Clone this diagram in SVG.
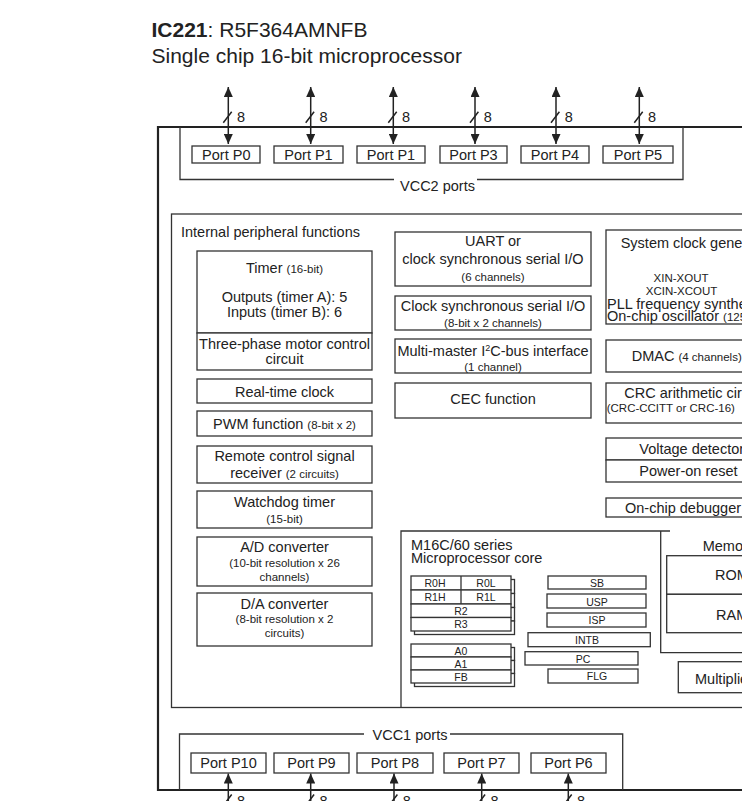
<svg xmlns="http://www.w3.org/2000/svg" width="742" height="801" viewBox="0 0 742 801">
  <style>
    text { font-family: "Liberation Sans", Arial, Helvetica, sans-serif; font-size: 14.5px; fill: #222; }
    .c { text-anchor: middle; }
    .s { font-size: 11.5px; }
    .r { font-size: 10.5px; }
    .ttl { font-size: 21px; }
    .box { fill: #fff; stroke: #333; stroke-width: 1.3; }
    .frame { fill: none; stroke: #222; stroke-width: 2.2; }
    .wire { fill: none; stroke: #333; stroke-width: 1.3; }
    .bus { fill: none; stroke: #222; stroke-width: 1.5; }
  </style>
  <defs>
    <marker id="head" viewBox="0 0 10 9" refX="10" refY="4.5" markerWidth="10" markerHeight="9" markerUnits="userSpaceOnUse" orient="auto-start-reverse">
      <path d="M0,0 L10,4.5 L0,9 z" fill="#222"/>
    </marker>
  </defs>

  <rect width="742" height="801" fill="#fff"/>

  <!-- title -->
  <g id="title">
    <text class="ttl" x="151.5" y="36.5"><tspan font-weight="bold">IC221</tspan>: R5F364AMNFB</text>
    <text class="ttl" x="151.5" y="63">Single chip 16-bit microprocessor</text>
  </g>

  <!-- chip outline -->
  <g id="chip">
    <path class="frame" d="M760,127 H158 V790 H760"/>
  </g>

  <!-- internal peripheral block -->
  <g id="peripherals">
    <rect class="box" x="171.5" y="214" width="620" height="493.5"/>
    <text x="181" y="237.3">Internal peripheral functions</text>
  </g>

  <!-- left column -->
  <g id="timer">
    <rect class="box" x="197" y="251" width="175" height="82"/>
    <text class="c" x="284.5" y="273">Timer <tspan class="s">(16-bit)</tspan></text>
    <text class="c" x="284.5" y="302">Outputs (timer A): 5</text>
    <text class="c" x="284.5" y="317">Inputs (timer B): 6</text>
  </g>
  <g id="three-phase">
    <rect class="box" x="197" y="333" width="175" height="37"/>
    <text class="c" x="284.5" y="349">Three-phase motor control</text>
    <text class="c" x="284.5" y="364">circuit</text>
  </g>
  <g id="rtc">
    <rect class="box" x="197" y="379" width="175" height="24"/>
    <text class="c" x="284.5" y="396.5">Real-time clock</text>
  </g>
  <g id="pwm">
    <rect class="box" x="197" y="411" width="175" height="25"/>
    <text class="c" x="284.5" y="428.5">PWM function <tspan class="s">(8-bit x 2)</tspan></text>
  </g>
  <g id="remote">
    <rect class="box" x="197" y="446" width="175" height="37"/>
    <text class="c" x="284.5" y="460.5">Remote control signal</text>
    <text class="c" x="284.5" y="478">receiver <tspan class="s">(2 circuits)</tspan></text>
  </g>
  <g id="watchdog">
    <rect class="box" x="197" y="491" width="175" height="37"/>
    <text class="c" x="284.5" y="507">Watchdog timer</text>
    <text class="c s" x="284.5" y="523">(15-bit)</text>
  </g>
  <g id="adc">
    <rect class="box" x="197" y="537" width="175" height="49"/>
    <text class="c" x="284.5" y="551.5">A/D converter</text>
    <text class="c s" x="284.5" y="567">(10-bit resolution x 26</text>
    <text class="c s" x="284.5" y="581">channels)</text>
  </g>
  <g id="dac">
    <rect class="box" x="197" y="593" width="175" height="53"/>
    <text class="c" x="284.5" y="609">D/A converter</text>
    <text class="c s" x="284.5" y="623">(8-bit resolution x 2</text>
    <text class="c s" x="284.5" y="637">circuits)</text>
  </g>

  <!-- middle column -->
  <g id="uart">
    <rect class="box" x="395" y="232" width="196" height="54"/>
    <text class="c" x="493" y="246">UART or</text>
    <text class="c" x="493" y="264">clock synchronous serial I/O</text>
    <text class="c s" x="493" y="281">(6 channels)</text>
  </g>
  <g id="csio">
    <rect class="box" x="395" y="296" width="196" height="34"/>
    <text class="c" x="493" y="311">Clock synchronous serial I/O</text>
    <text class="c s" x="493" y="326.5">(8-bit x 2 channels)</text>
  </g>
  <g id="i2c">
    <rect class="box" x="395" y="339" width="196" height="34"/>
    <text class="c" x="493" y="356">Multi-master I<tspan font-size="9" dy="-5">2</tspan><tspan dy="5">C-bus interface</tspan></text>
    <text class="c s" x="493" y="370.5">(1 channel)</text>
  </g>
  <g id="cec">
    <rect class="box" x="395" y="383" width="196" height="35"/>
    <text class="c" x="493" y="404">CEC function</text>
  </g>

  <!-- right column -->
  <g id="clock-gen">
    <rect class="box" x="606" y="230" width="160" height="94"/>
    <text x="620.7" y="248">System clock generator</text>
    <text class="c s" x="681" y="281.5">XIN-XOUT</text>
    <text class="c s" x="681.5" y="294.5">XCIN-XCOUT</text>
    <text x="607" y="308.5">PLL frequency synthesizer</text>
    <text x="607" y="321">On-chip oscillator <tspan class="s">(125 kHz)</tspan></text>
  </g>
  <g id="dmac">
    <rect class="box" x="606" y="340" width="160" height="32"/>
    <text x="631.7" y="361">DMAC <tspan class="s">(4 channels)</tspan></text>
  </g>
  <g id="crc">
    <rect class="box" x="606" y="383" width="160" height="40"/>
    <text x="624.3" y="398">CRC arithmetic circuit</text>
    <text class="s" x="606.7" y="412">(CRC-CCITT or CRC-16)</text>
  </g>
  <g id="voltage-detector">
    <rect class="box" x="606" y="438" width="160" height="22"/>
    <text x="639.3" y="454">Voltage detector</text>
  </g>
  <g id="power-on-reset">
    <rect class="box" x="606" y="460" width="160" height="22"/>
    <text x="639.3" y="476">Power-on reset</text>
  </g>
  <g id="debugger">
    <rect class="box" x="606" y="498" width="160" height="19"/>
    <text x="625" y="512.5">On-chip debugger</text>
  </g>

  <!-- CPU core -->
  <g id="core">
    <path class="wire" d="M670,531 H401 V707.5"/>
    <text x="411" y="549.5">M16C/60 series</text>
    <text x="411" y="563">Microprocessor core</text>
  </g>
  <g id="data-registers">
    <rect class="box" x="414.5" y="579.5" width="100" height="14"/>
    <rect class="box" x="414.5" y="593.5" width="100" height="14"/>
    <rect class="box" x="414.5" y="607.5" width="100" height="13.5"/>
    <rect class="box" x="414.5" y="621" width="100" height="13.5"/>
    <rect class="box" x="411" y="576" width="100" height="14"/>
    <rect class="box" x="411" y="590" width="100" height="14"/>
    <rect class="box" x="411" y="604" width="100" height="13.5"/>
    <rect class="box" x="411" y="617.5" width="100" height="13.5"/>
    <line class="wire" x1="461" y1="576" x2="461" y2="604"/>
    <text class="c r" x="435" y="587">R0H</text>
    <text class="c r" x="486" y="587">R0L</text>
    <text class="c r" x="435" y="601">R1H</text>
    <text class="c r" x="486" y="601">R1L</text>
    <text class="c r" x="461" y="614.5">R2</text>
    <text class="c r" x="461" y="628">R3</text>
  </g>
  <g id="address-registers">
    <rect class="box" x="414.5" y="647.5" width="100" height="13"/>
    <rect class="box" x="414.5" y="660.5" width="100" height="13"/>
    <rect class="box" x="414.5" y="673.5" width="100" height="13"/>
    <rect class="box" x="411" y="644" width="100" height="13"/>
    <rect class="box" x="411" y="657" width="100" height="13"/>
    <rect class="box" x="411" y="670" width="100" height="13"/>
    <text class="c r" x="461" y="654.5">A0</text>
    <text class="c r" x="461" y="668">A1</text>
    <text class="c r" x="461" y="680.5">FB</text>
  </g>
  <g id="sb"><rect class="box" x="548" y="576" width="98" height="13"/><text class="c r" x="597" y="586.5">SB</text></g>
  <g id="usp"><rect class="box" x="547" y="594" width="99" height="14"/><text class="c r" x="597" y="606">USP</text></g>
  <g id="isp"><rect class="box" x="547" y="613" width="99" height="14"/><text class="c r" x="597" y="624">ISP</text></g>
  <g id="intb"><rect class="box" x="528" y="632.7" width="122.3" height="14"/><text class="c r" x="587" y="644">INTB</text></g>
  <g id="pc"><rect class="box" x="525" y="651.7" width="113" height="13.3"/><text class="c r" x="583" y="662.5">PC</text></g>
  <g id="flg"><rect class="box" x="548" y="669" width="90" height="14"/><text class="c r" x="597" y="680">FLG</text></g>

  <g id="memory">
    <path class="wire" d="M660.7,531 V652.7 H760"/>
    <text x="702.7" y="551">Memory</text>
  </g>
  <g id="rom">
    <rect class="box" x="666.7" y="555.7" width="140" height="38.6"/>
    <text x="715" y="580">ROM</text>
  </g>
  <g id="ram">
    <rect class="box" x="666.7" y="594.3" width="140" height="38.4"/>
    <text x="716" y="619.5">RAM</text>
  </g>
  <g id="multiplier">
    <rect class="box" x="678.3" y="661.7" width="120" height="31"/>
    <text x="695" y="683.5">Multiplier</text>
  </g>

  <!-- VCC2 port row -->
  <g id="port-p0"><rect class="box" x="192" y="146" width="68" height="17"/><text class="c" x="226.3" y="159.7">Port P0</text></g>
  <g id="port-p1"><rect class="box" x="274" y="146" width="69" height="17"/><text class="c" x="308.5" y="159.7">Port P1</text></g>
  <g id="port-p1b"><rect class="box" x="357" y="146" width="68" height="17"/><text class="c" x="391" y="159.7">Port P1</text></g>
  <g id="port-p3"><rect class="box" x="440" y="146" width="67" height="17"/><text class="c" x="473.5" y="159.7">Port P3</text></g>
  <g id="port-p4"><rect class="box" x="521" y="146" width="68" height="17"/><text class="c" x="555" y="159.7">Port P4</text></g>
  <g id="port-p5"><rect class="box" x="603" y="146" width="70" height="17"/><text class="c" x="638" y="159.7">Port P5</text></g>

  <!-- VCC1 port row -->
  <g id="port-p10"><rect class="box" x="191" y="753" width="75" height="20"/><text class="c" x="228.5" y="768">Port P10</text></g>
  <g id="port-p9"><rect class="box" x="274" y="753" width="75" height="20"/><text class="c" x="311.5" y="768">Port P9</text></g>
  <g id="port-p8"><rect class="box" x="357" y="753" width="76" height="20"/><text class="c" x="395" y="768">Port P8</text></g>
  <g id="port-p7"><rect class="box" x="444" y="753" width="75" height="20"/><text class="c" x="481.5" y="768">Port P7</text></g>
  <g id="port-p6"><rect class="box" x="531" y="753" width="75" height="20"/><text class="c" x="568.5" y="768">Port P6</text></g>

  <!-- supply groupings and bus connectors -->
  <g id="connectors">
    <path class="wire" d="M180,127 V179.5 H394 M477,179.5 H683 V127"/>
    <text x="400" y="191">VCC2 ports</text>
    <path class="wire" d="M179.5,790 V734 H364 M450,734 H622.7 V790"/>
    <text x="372.5" y="740">VCC1 ports</text>

    <g class="bus">
      <line x1="228.3" y1="87" x2="228.3" y2="144" marker-start="url(#head)" marker-end="url(#head)"/>
      <line x1="310.7" y1="87" x2="310.7" y2="144" marker-start="url(#head)" marker-end="url(#head)"/>
      <line x1="393.3" y1="87" x2="393.3" y2="144" marker-start="url(#head)" marker-end="url(#head)"/>
      <line x1="475" y1="87" x2="475" y2="144" marker-start="url(#head)" marker-end="url(#head)"/>
      <line x1="556" y1="87" x2="556" y2="144" marker-start="url(#head)" marker-end="url(#head)"/>
      <line x1="639.3" y1="87" x2="639.3" y2="144" marker-start="url(#head)" marker-end="url(#head)"/>
      <path d="M223.3,122.7 L231.7,111.7 M305.7,122.7 L314.1,111.7 M388.3,122.7 L396.7,111.7 M470,122.7 L478.4,111.7 M551,122.7 L559.4,111.7 M634.3,122.7 L642.7,111.7"/>

      <line x1="228.3" y1="812" x2="228.3" y2="773.5" marker-end="url(#head)"/>
      <line x1="310.7" y1="812" x2="310.7" y2="773.5" marker-end="url(#head)"/>
      <line x1="394" y1="812" x2="394" y2="773.5" marker-end="url(#head)"/>
      <line x1="481.7" y1="812" x2="481.7" y2="773.5" marker-end="url(#head)"/>
      <line x1="568.3" y1="812" x2="568.3" y2="773.5" marker-end="url(#head)"/>
      <path d="M223.3,805.5 L231.7,794.5 M305.7,805.5 L314.1,794.5 M389,805.5 L397.4,794.5 M476.7,805.5 L485.1,794.5 M563.3,805.5 L571.7,794.5"/>
    </g>
    <g>
      <text x="237" y="121.7">8</text>
      <text x="319.4" y="121.7">8</text>
      <text x="402" y="121.7">8</text>
      <text x="483.7" y="121.7">8</text>
      <text x="564.7" y="121.7">8</text>
      <text x="648" y="121.7">8</text>
      <text x="237" y="806">8</text>
      <text x="319.4" y="806">8</text>
      <text x="402.7" y="806">8</text>
      <text x="490.4" y="806">8</text>
      <text x="577" y="806">8</text>
    </g>
  </g>
</svg>
